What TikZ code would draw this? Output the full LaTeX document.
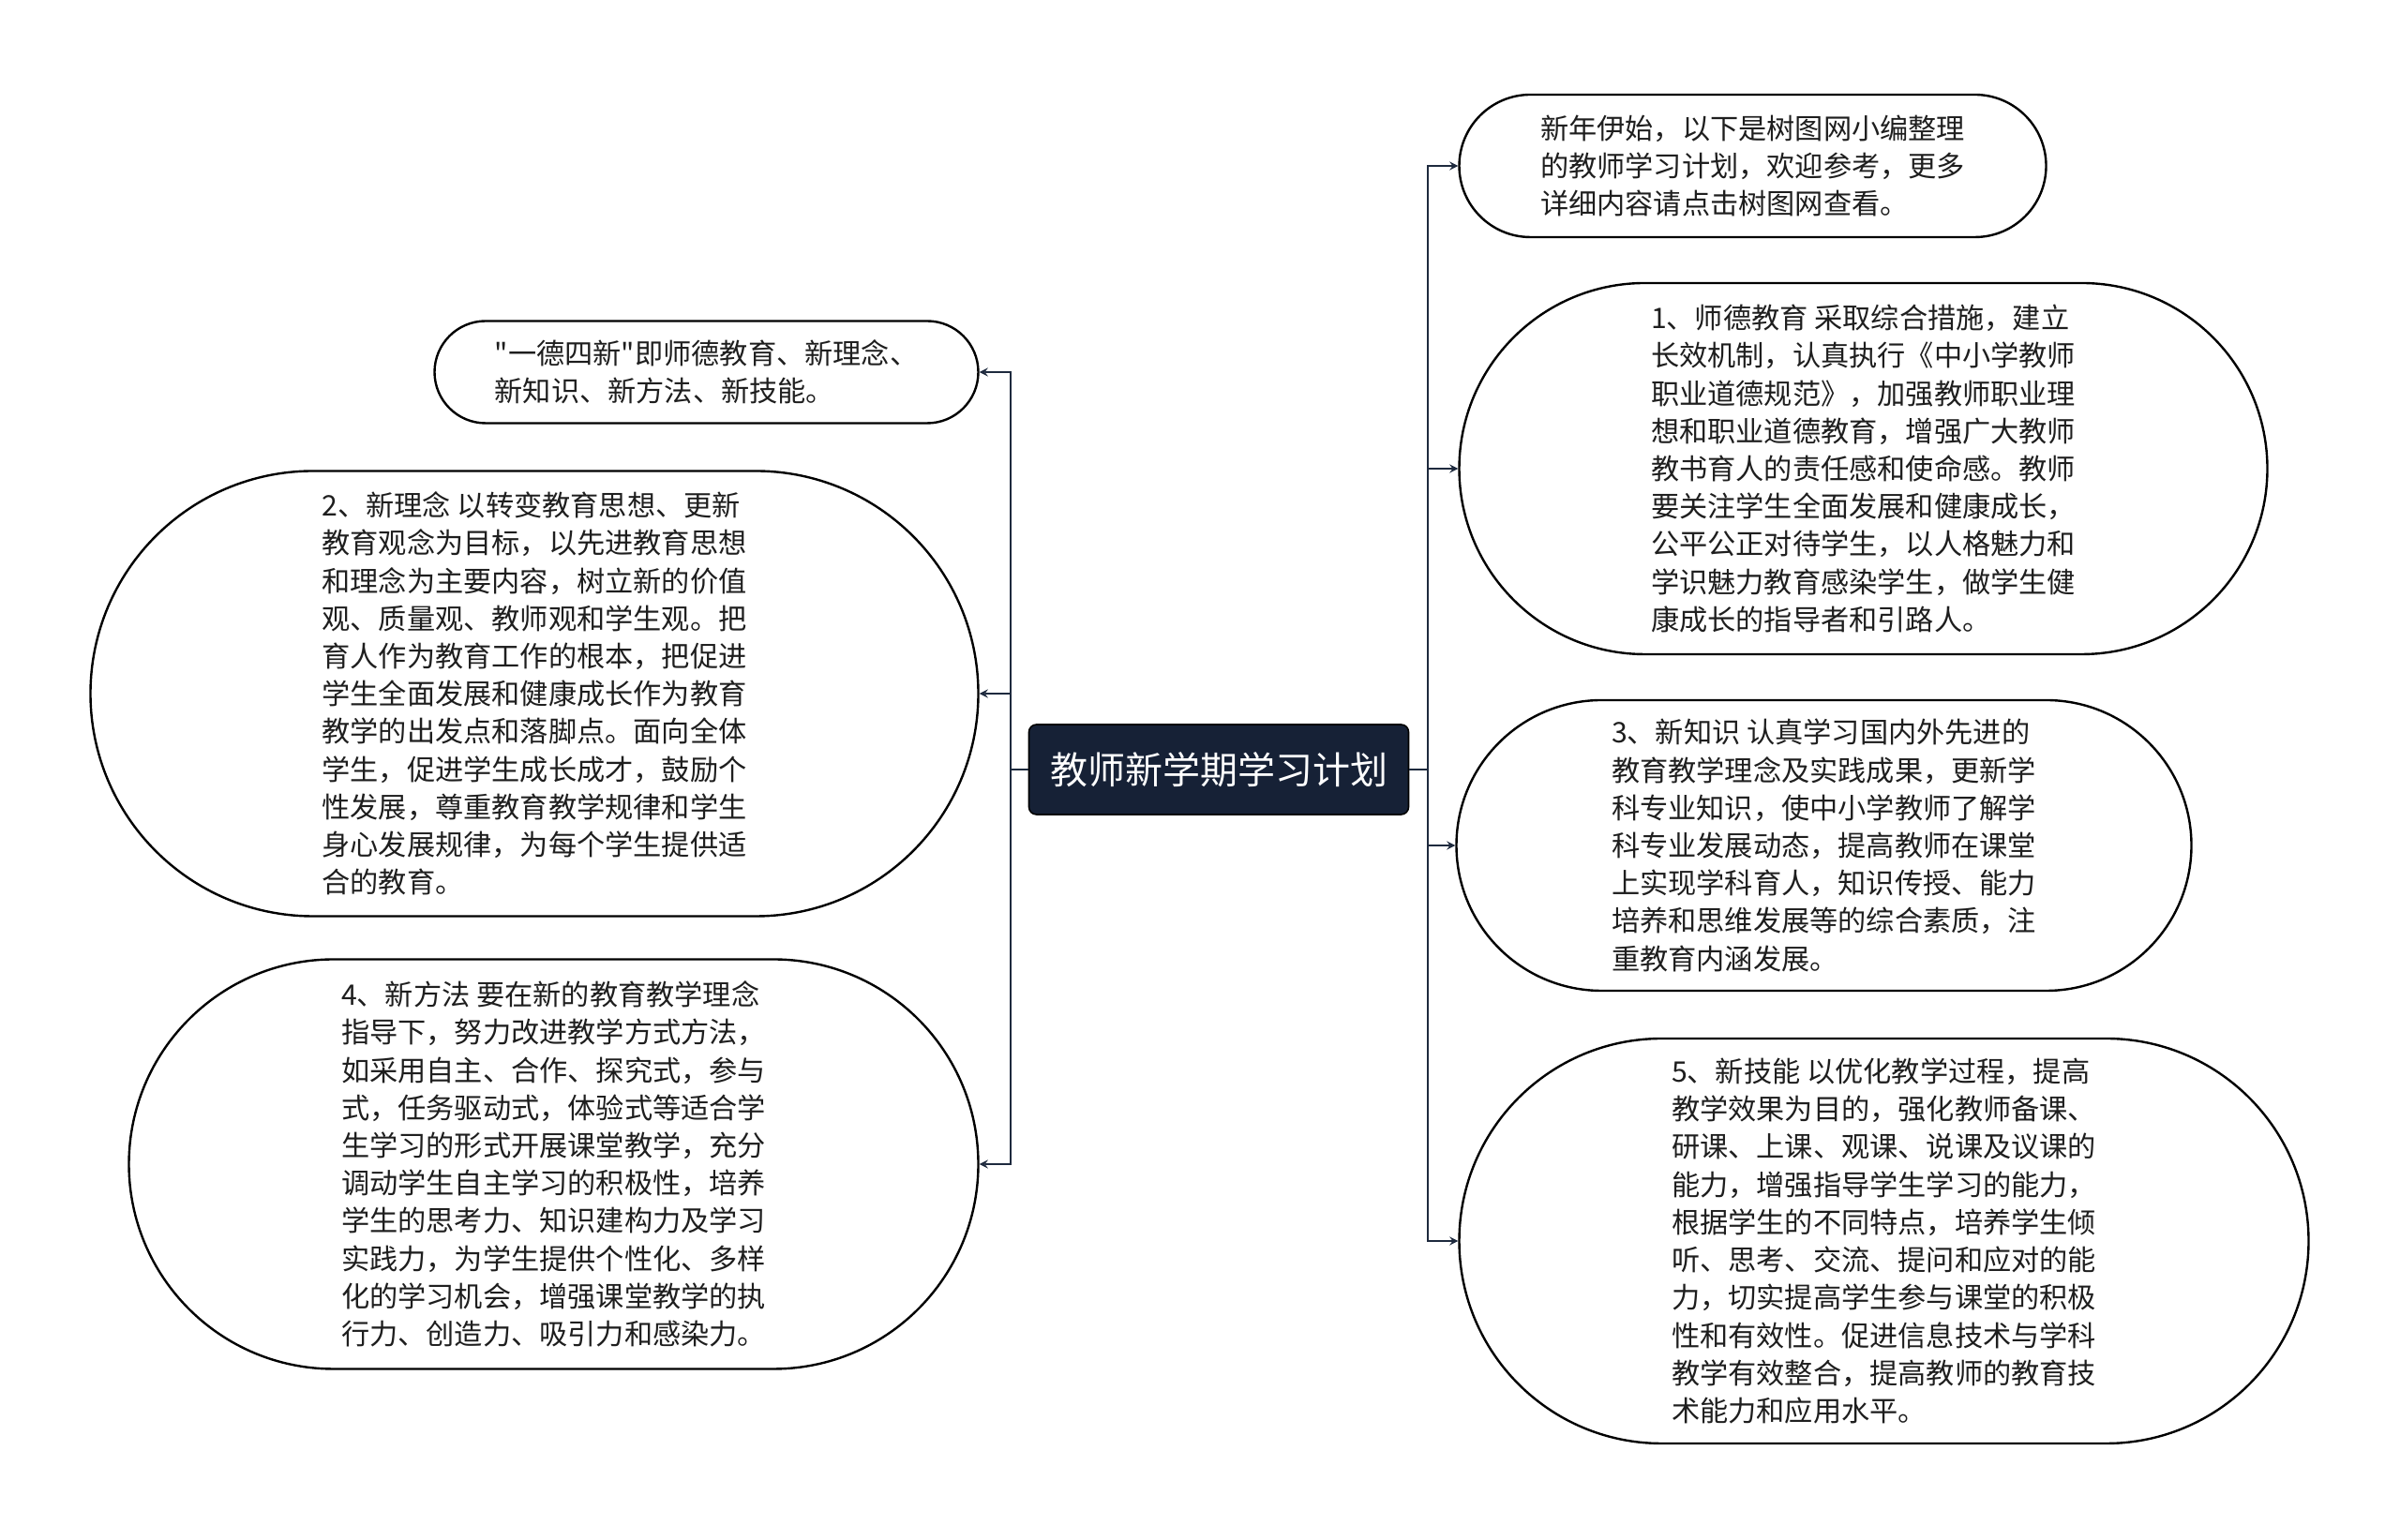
\documentclass[tikz,border=0pt]{standalone}
\usepackage{fontspec}
\setmainfont{Noto Sans CJK SC}[Ligatures=TeXOff]
\usepackage{xcolor}
\usepackage{tikz}
\usetikzlibrary{shapes.misc,arrows,positioning}
\definecolor{darknavy}{RGB}{22,33,54}
\definecolor{linecol}{RGB}{30,42,62}
\definecolor{textgray}{RGB}{30,30,30}

\begin{document}
\begin{tikzpicture}[
    topic/.style={rectangle, rounded corners=4pt, draw=black, line width=0.8pt, fill=darknavy,
        text=white, minimum width=202.5pt, minimum height=48pt, inner sep=0pt,
        font=\fontsize{20pt}{24pt}\selectfont},
    leaf/.style={rounded rectangle, draw=black, line width=1.2pt, fill=white, text=textgray,
        inner sep=0pt, align=left, font=\fontsize{15.1pt}{20.1pt}\selectfont},
    conn/.style={->, >=stealth, line width=1pt, draw=linecol}]

    \useasboundingbox (0,0) rectangle (1280pt,821.5pt);

    \node[topic] (plan) at (650pt,411pt) {教师新学期学习计划};

    % right side
    \node[leaf, minimum width=313pt, minimum height=76pt, right=26pt of plan, yshift=322pt] (intro)
        {新年伊始，以下是树图网小编整理\\的教师学习计划，欢迎参考，更多\\详细内容请点击树图网查看。};
    \node[leaf, minimum width=431pt, minimum height=198pt, right=26pt of plan, yshift=160.5pt] (ethics)
        {1、师德教育 采取综合措施，建立\\长效机制，认真执行《中小学教师\\职业道德规范》，加强教师职业理\\想和职业道德教育，增强广大教师\\教书育人的责任感和使命感。教师\\要关注学生全面发展和健康成长，\\公平公正对待学生，以人格魅力和\\学识魅力教育感染学生，做学生健\\康成长的指导者和引路人。};
    \node[leaf, minimum width=392pt, minimum height=155pt, right=24.5pt of plan, yshift=-40.5pt] (knowledge)
        {3、新知识 认真学习国内外先进的\\教育教学理念及实践成果，更新学\\科专业知识，使中小学教师了解学\\科专业发展动态，提高教师在课堂\\上实现学科育人，知识传授、能力\\培养和思维发展等的综合素质，注\\重教育内涵发展。};
    \node[leaf, minimum width=453pt, minimum height=216pt, right=26pt of plan, yshift=-251.5pt] (skills)
        {5、新技能 以优化教学过程，提高\\教学效果为目的，强化教师备课、\\研课、上课、观课、说课及议课的\\能力，增强指导学生学习的能力，\\根据学生的不同特点，培养学生倾\\听、思考、交流、提问和应对的能\\力，切实提高学生参与课堂的积极\\性和有效性。促进信息技术与学科\\教学有效整合，提高教师的教育技\\术能力和应用水平。};

    % left side
    \node[leaf, minimum width=290pt, minimum height=54.5pt, left=26pt of plan, yshift=212pt] (summary)
        {"一德四新"即师德教育、新理念、\\新知识、新方法、新技能。};
    \node[leaf, minimum width=473.5pt, minimum height=237.5pt, left=26pt of plan, yshift=40.5pt] (ideas)
        {2、新理念 以转变教育思想、更新\\教育观念为目标，以先进教育思想\\和理念为主要内容，树立新的价值\\观、质量观、教师观和学生观。把\\育人作为教育工作的根本，把促进\\学生全面发展和健康成长作为教育\\教学的出发点和落脚点。面向全体\\学生，促进学生成长成才，鼓励个\\性发展，尊重教育教学规律和学生\\身心发展规律，为每个学生提供适\\合的教育。};
    \node[leaf, minimum width=453pt, minimum height=218.5pt, left=26pt of plan, yshift=-210.5pt] (methods)
        {4、新方法 要在新的教育教学理念\\指导下，努力改进教学方式方法，\\如采用自主、合作、探究式，参与\\式，任务驱动式，体验式等适合学\\生学习的形式开展课堂教学，充分\\调动学生自主学习的积极性，培养\\学生的思考力、知识建构力及学习\\实践力，为学生提供个性化、多样\\化的学习机会，增强课堂教学的执\\行力、创造力、吸引力和感染力。};

    \foreach \n in {intro,ethics,knowledge,skills}
        \draw[conn] (plan.east) -- ++(10pt,0) |- (\n.west);
    \foreach \n in {summary,ideas,methods}
        \draw[conn] (plan.west) -- ++(-9.5pt,0) |- (\n.east);
\end{tikzpicture}
\end{document}
